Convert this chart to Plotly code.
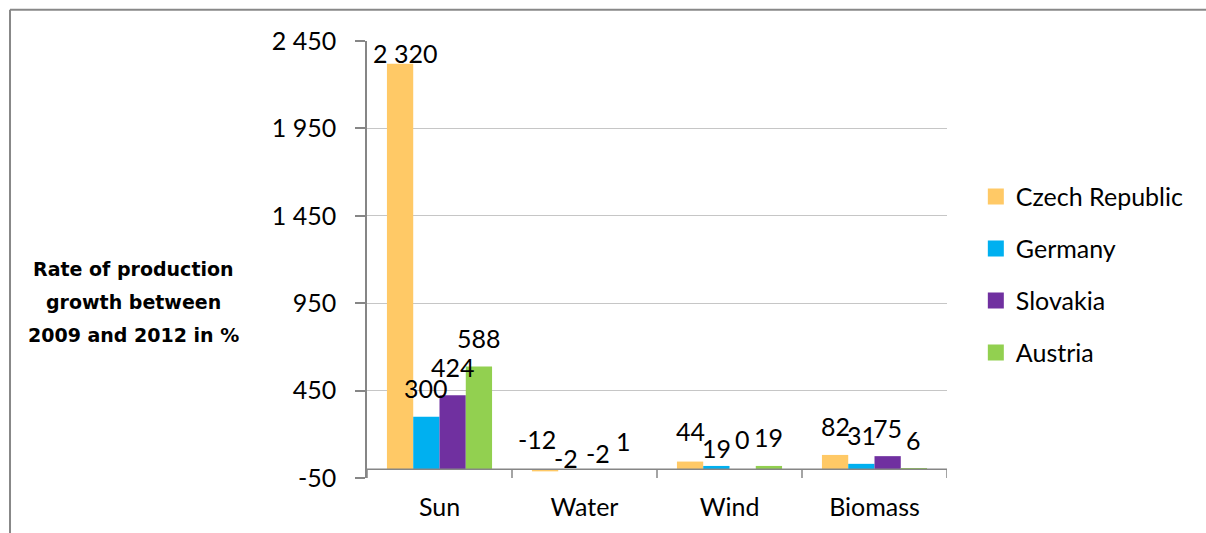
import plotly.graph_objects as go

# Energy sources on the category axis
categories = ["Sun", "Water", "Wind", "Biomass"]

# Growth of production 2009-2012, in %
countries = ["Czech Republic", "Germany", "Slovakia", "Austria"]
czech_republic = [2320, -12, 44, 82]
germany = [300, -2, 19, 31]
slovakia = [424, -2, 0, 75]
austria = [588, 1, 19, 6]
series_values = [czech_republic, germany, slovakia, austria]

y_ticks = [-50, 450, 950, 1450, 1950, 2450]
axis_title_lines = ["Rate of production", "growth between", "2009 and 2012 in %"]

colors = ["#FFC966", "#00B0F0", "#7030A0", "#92D050"]
FONT = "Lato"
TEXT_SIZE = 25
AXIS_GREY = "#868686"
GRID_GREY = "#C6C6C6"
BARGAP = 0.275
LABEL_LIFT = 28.5  # px from bar end to label centre

# a few labels were moved by hand: (series, category) -> (dx, dy) in px
label_nudge = {
    (0, 0): (5, -17.5),
    (0, 1): (-8.5, 1.5),
    (1, 1): (-5.5, -16.8),
    (2, 1): (0, -11.8),
    (0, 2): (0, 2.5),
    (1, 2): (0, -11),
    (2, 2): (0, 2),
}


def spaced(n):
    return f"{n:,}".replace(",", " ")


fig = go.Figure()
for i, (name, vals) in enumerate(zip(countries, series_values)):
    fig.add_trace(go.Bar(
        x=categories, y=vals, name=name,
        marker=dict(color=colors[i], line=dict(width=0)),
        legendgroup=name, showlegend=False,
    ))
# legend keys: larger square swatches than the default bar icon
for i, name in enumerate(countries):
    fig.add_trace(go.Scatter(
        x=[None], y=[None], mode="markers", name=name, legendgroup=name,
        marker=dict(symbol="square", size=16, color=colors[i], line=dict(width=0)),
        hoverinfo="skip",
    ))

# value labels above each bar
n = len(series_values)
bar_w = (1 - BARGAP) / n
annotations = []
for i, vals in enumerate(series_values):
    for j, v in enumerate(vals):
        dx, dy = label_nudge.get((i, j), (0, 0))
        annotations.append(dict(
            x=j + (i - (n - 1) / 2) * bar_w, y=max(v, 0), xref="x", yref="y",
            text=spaced(v), showarrow=False, yanchor="middle", xanchor="center",
            xshift=dx, yshift=LABEL_LIFT + dy,
            font=dict(family=FONT, size=TEXT_SIZE, color="black"),
        ))

# vertical axis title, one annotation per line
for k, line in enumerate(axis_title_lines):
    annotations.append(dict(
        x=-0.402, y=0.478 - k * 0.0753, xref="paper", yref="paper",
        text=f"<b>{line}</b>", showarrow=False, xanchor="center", yanchor="middle",
        font=dict(family="DejaVu Sans", size=19, color="black"),
    ))

FRAME = dict(color="#888888", width=2)
shapes = [
    # chart frame: top and left edges
    dict(type="line", xref="paper", yref="paper", x0=-0.6155, x1=1.6, y0=1.0714, y1=1.0714,
         line=FRAME),
    dict(type="line", xref="paper", yref="paper", x0=-0.6155, x1=-0.6155, y0=-0.2, y1=1.0714,
         line=FRAME),
    # category axis crossing at zero
    dict(type="line", xref="x domain", yref="y", x0=0, x1=1, y0=0, y1=0,
         line=dict(color=AXIS_GREY, width=1.5)),
]
# category separator ticks
for b in range(len(categories) + 1):
    shapes.append(dict(type="line", xref="x", yref="y", x0=b - 0.5, x1=b - 0.5, y0=0, y1=-50,
                       line=dict(color=AXIS_GREY, width=1.5)))

fig.update_layout(
    width=1206, height=533,
    margin=dict(l=367, r=259, t=41, b=53),
    paper_bgcolor="white", plot_bgcolor="white",
    barmode="group", bargap=BARGAP, bargroupgap=0,
    font=dict(family=FONT, size=TEXT_SIZE, color="black"),
    showlegend=True,
    legend=dict(
        x=1.0497, y=0.6965, xanchor="left", yanchor="top",
        font=dict(family=FONT, size=TEXT_SIZE, color="black"),
        traceorder="grouped", tracegroupgap=16.5, itemwidth=30, itemsizing="trace",
        bgcolor="rgba(0,0,0,0)",
    ),
    annotations=annotations,
    shapes=shapes,
)
fig.update_xaxes(
    type="category", range=[-0.5, len(categories) - 0.5],
    showline=False, showgrid=False, zeroline=False, ticks="",
    ticklabelstandoff=12,
    tickfont=dict(family=FONT, size=TEXT_SIZE, color="black"),
)
fig.update_yaxes(
    range=[y_ticks[0], y_ticks[-1]], tickmode="array",
    tickvals=y_ticks, ticktext=[spaced(t) for t in y_ticks],
    showgrid=True, gridcolor=GRID_GREY, gridwidth=1.3, zeroline=False,
    showline=True, linecolor=AXIS_GREY, linewidth=1.5,
    ticks="outside", ticklen=10, tickwidth=1.5, tickcolor=AXIS_GREY,
    ticklabelstandoff=14,
    tickfont=dict(family=FONT, size=TEXT_SIZE, color="black"),
)

fig.write_html("out.html")
